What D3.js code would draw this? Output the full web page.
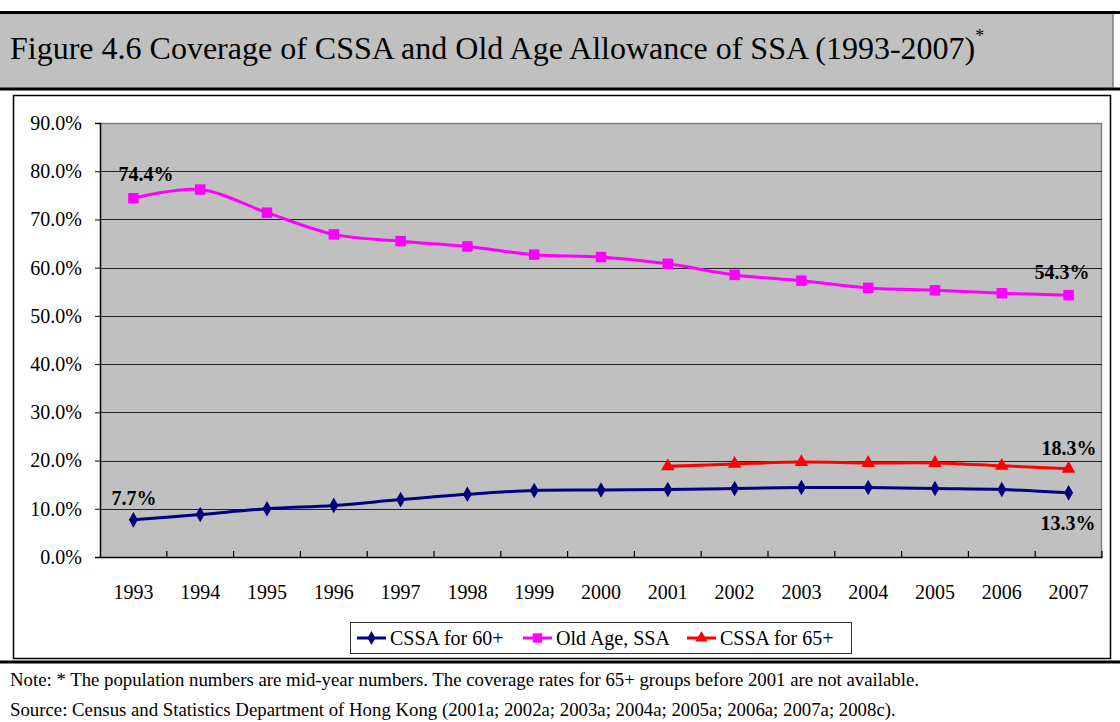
<!DOCTYPE html>
<html>
<head>
<meta charset="utf-8">
<script src="https://cdn.jsdelivr.net/npm/d3@7"></script>
<style>
body{margin:0;background:#fff;}
svg{display:block;font-family:"Liberation Serif","Times New Roman",serif;}
</style>
</head>
<body>
<svg width="1120" height="722"></svg>
<script>
//年份
var years=["1993","1994","1995","1996","1997","1998","1999","2000","2001","2002","2003","2004","2005","2006","2007"];
//CSSA 60+
var cssa60=[7.7,8.8,10.0,10.7,11.9,13.0,13.8,13.9,14.0,14.2,14.4,14.4,14.2,14.0,13.3];
//Old Age Allowance
var oldAge=[74.4,76.2,71.4,66.9,65.5,64.4,62.7,62.2,60.8,58.5,57.3,55.8,55.3,54.7,54.3];
//CSSA 65+ (2001起)
var cssa65Years=["2001","2002","2003","2004","2005","2006","2007"];
var cssa65=[18.8,19.3,19.7,19.5,19.5,18.9,18.3];
var yTicks=[0,10,20,30,40,50,60,70,80,90];

var svg=d3.select("svg");

//标题栏
svg.append("rect").attr("x",0).attr("y",13).attr("width",1113).attr("height",76).attr("fill","#c0c0c0");
svg.append("line").attr("x1",0).attr("x2",1120).attr("y1",12.5).attr("y2",12.5).attr("stroke","#000").attr("stroke-width",3);
svg.append("line").attr("x1",0).attr("x2",1120).attr("y1",89).attr("y2",89).attr("stroke","#000").attr("stroke-width",3);
svg.append("line").attr("x1",1113).attr("x2",1113).attr("y1",14).attr("y2",88).attr("stroke","#555").attr("stroke-width",1);
var title=svg.append("text").attr("x",10).attr("y",59).attr("font-size",32).attr("fill","#000");
title.append("tspan").text("Figure 4.6 Coverage of CSSA and Old Age Allowance of SSA (1993-2007)");
title.append("tspan").attr("dy",-17).attr("font-size",18).text("*");

//图表外框
svg.append("rect").attr("x",13.5).attr("y",95.5).attr("width",1097).attr("height",563)
  .attr("fill","#fff").attr("stroke","#000").attr("stroke-width",1.5);

var margin={top:123,left:100},width=1002,height=434;
var g=svg.append("g").attr("transform","translate("+margin.left+","+margin.top+")");

var x=d3.scaleBand().domain(years).range([0,width]);
var y=d3.scaleLinear().domain([0,90]).range([height,0]);
var cx=function(d){return x(d)+x.bandwidth()/2;};

//绘图区
g.append("rect").attr("width",width).attr("height",height).attr("fill","#c0c0c0");
g.append("path").attr("d","M0,0.5H"+(width-0.5)+"V"+height).attr("fill","none").attr("stroke","#808080").attr("stroke-width",1.5);

//网格线
g.selectAll(".grid").data(yTicks.filter(function(d){return d>0&&d<90;}))
  .enter().append("line")
  .attr("x1",0).attr("x2",width)
  .attr("y1",function(d){return Math.round(y(d))+0.5;}).attr("y2",function(d){return Math.round(y(d))+0.5;})
  .attr("stroke","#222").attr("stroke-width",1);

//y坐标轴
var yAxis=g.append("g").call(d3.axisLeft(y).tickValues(yTicks).tickSize(5).tickPadding(13)
  .tickFormat(function(d){return d.toFixed(1)+"%";}));
yAxis.select(".domain").attr("stroke","#000").attr("stroke-width",1.5);
yAxis.selectAll(".tick line").attr("stroke","#000");
yAxis.selectAll("text").attr("font-size",20).attr("font-family","Liberation Serif").attr("fill","#000");

//x坐标轴
var xAxis=g.append("g").attr("transform","translate(0,"+height+")")
  .call(d3.axisBottom(x).tickSize(0).tickPadding(28));
xAxis.select(".domain").attr("stroke","#000").attr("stroke-width",1.5);
xAxis.selectAll("text").attr("font-size",20).attr("font-family","Liberation Serif").attr("fill","#000");
//类别分隔刻度
g.selectAll(".xtick").data(years.slice(1).concat(["end"]))
  .enter().append("line")
  .attr("x1",function(d,i){return (i+1)*x.bandwidth();}).attr("x2",function(d,i){return (i+1)*x.bandwidth();})
  .attr("y1",height).attr("y2",height-6).attr("stroke","#000").attr("stroke-width",1.2);

//折线
var line=d3.line().curve(d3.curveCardinal.tension(0))
  .x(function(d){return cx(d.year);}).y(function(d){return y(d.value);});
var zip=function(ys,vs){return ys.map(function(d,i){return {year:d,value:vs[i]};});};

var series=[
  {name:"CSSA for 60+",color:"#000080",data:zip(years,cssa60),shape:d3.symbolDiamond,size:70},
  {name:"Old Age, SSA",color:"#ff00ff",data:zip(years,oldAge),shape:d3.symbolSquare,size:110},
  {name:"CSSA for 65+",color:"#ff0000",data:zip(cssa65Years,cssa65),shape:d3.symbolTriangle,size:80}
];

series.forEach(function(s){
  g.append("path").datum(s.data)
    .attr("fill","none").attr("stroke",s.color).attr("stroke-width",3)
    .attr("stroke-linejoin","round").attr("d",line);
  g.selectAll(null).data(s.data).enter().append("path")
    .attr("transform",function(d){return "translate("+cx(d.year)+","+y(d.value)+")";})
    .attr("d",d3.symbol().type(s.shape).size(s.size)).attr("fill",s.color);
});

//数据标签
var labels=[
  {text:"74.4%",year:"1993",value:74.4,dx:-15,dy:-17},
  {text:"7.7%",year:"1993",value:7.7,dx:-22,dy:-15},
  {text:"54.3%",year:"2007",value:54.3,dx:-34,dy:-16},
  {text:"18.3%",year:"2007",value:18.3,dx:-27,dy:-14},
  {text:"13.3%",year:"2007",value:13.3,dx:-28,dy:37}
];
g.selectAll(".lbl").data(labels).enter().append("text")
  .attr("x",function(d){return cx(d.year)+d.dx;}).attr("y",function(d){return y(d.value)+d.dy;})
  .attr("font-size",20).attr("font-weight","bold").attr("fill","#000")
  .text(function(d){return d.text;});

//图例
var lg=svg.append("g").attr("transform","translate(350,622)");
lg.append("rect").attr("x",0.5).attr("y",0.5).attr("width",501).attr("height",31)
  .attr("fill","#fff").attr("stroke","#333").attr("stroke-width",1);
var lx=[7,173,337];
series.forEach(function(s,i){
  var it=lg.append("g").attr("transform","translate("+lx[i]+",16)");
  it.append("line").attr("x1",0).attr("x2",29).attr("stroke",s.color).attr("stroke-width",3);
  it.append("path").attr("transform","translate(14.5,0)")
    .attr("d",d3.symbol().type(s.shape).size(s.size*0.8)).attr("fill",s.color);
  it.append("text").attr("x",33).attr("y",7).attr("font-size",20).attr("fill","#000").text(s.name);
});

//注释
svg.append("line").attr("x1",0).attr("x2",1120).attr("y1",662).attr("y2",662).attr("stroke","#000").attr("stroke-width",3);
svg.append("text").attr("x",10).attr("y",686).attr("font-size",18.8).attr("fill","#000")
  .text("Note: * The population numbers are mid-year numbers. The coverage rates for 65+ groups before 2001 are not available.");
svg.append("text").attr("x",10).attr("y",716).attr("font-size",18.8).attr("fill","#000")
  .text("Source: Census and Statistics Department of Hong Kong (2001a; 2002a; 2003a; 2004a; 2005a; 2006a; 2007a; 2008c).");
</script>
</body>
</html>
